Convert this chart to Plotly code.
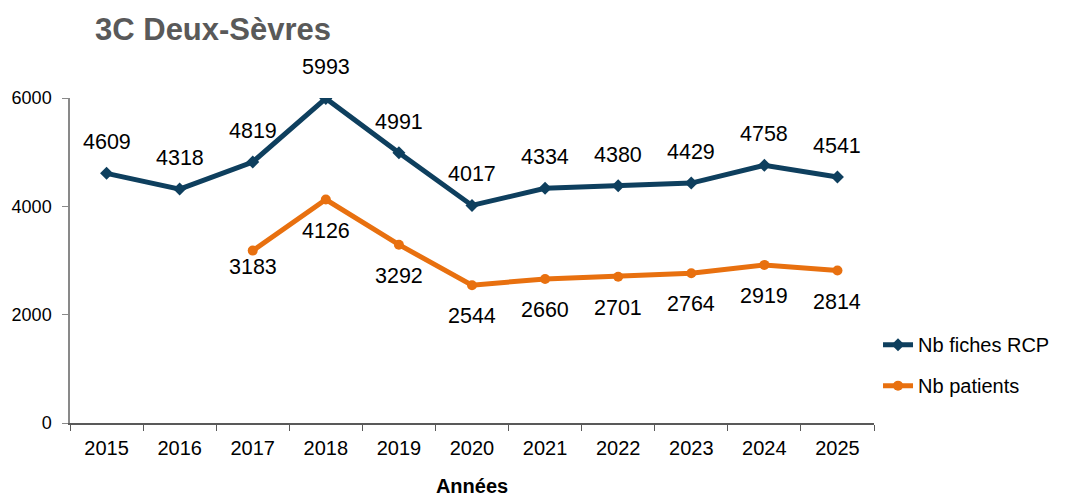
import plotly.graph_objects as go

years = ["2015", "2016", "2017", "2018", "2019", "2020", "2021", "2022", "2023", "2024", "2025"]
fiches_rcp = [4609, 4318, 4819, 5993, 4991, 4017, 4334, 4380, 4429, 4758, 4541]
patients_years = ["2017", "2018", "2019", "2020", "2021", "2022", "2023", "2024", "2025"]
patients = [3183, 4126, 3292, 2544, 2660, 2701, 2764, 2919, 2814]

BLUE = "#0E3F5E"
ORANGE = "#E8700F"
FONT = "Arial, Liberation Sans, sans-serif"

W, H = 1059, 489

fig = go.Figure()
fig.add_trace(go.Scatter(
    x=years, y=fiches_rcp, name="Nb fiches RCP", mode="lines+markers",
    line=dict(color=BLUE, width=5), marker=dict(symbol="diamond", size=10, color=BLUE),
    legendgroup="a",
))
fig.add_trace(go.Scatter(
    x=patients_years, y=patients, name="Nb patients", mode="lines+markers",
    line=dict(color=ORANGE, width=5), marker=dict(symbol="circle", size=10, color=ORANGE),
    legendgroup="b",
))

annotations = []
for x, y in zip(years, fiches_rcp):
    annotations.append(dict(x=years.index(x), y=y, text=str(y), showarrow=False, yshift=31,
                            font=dict(size=21.5, color="#000000", family=FONT)))
for i, (x, y) in enumerate(zip(patients_years, patients)):
    annotations.append(dict(x=years.index(x), y=y, text=str(y), showarrow=False,
                            yshift=-16 if i == 0 else -31,
                            font=dict(size=21.5, color="#000000", family=FONT)))

fig.update_layout(
    width=W, height=H,
    margin=dict(l=62, r=182, t=90, b=74),
    paper_bgcolor="white", plot_bgcolor="white",
    font=dict(family=FONT, size=20, color="#000000"),
    title=dict(text="<b>3C Deux-Sèvres</b>", x=(95 - 8) / W, xanchor="left", xref="container",
               y=1 - (29 - 8) / H, yref="container", yanchor="middle",
               font=dict(size=31, color="#595959", family=FONT)),
    showlegend=True,
    legend=dict(x=1.005, xanchor="left", y=0.178, yanchor="middle",
                font=dict(size=20, family=FONT, color="#000000"),
                traceorder="grouped", tracegroupgap=12, bgcolor="rgba(0,0,0,0)"),
    annotations=annotations,
)
fig.update_xaxes(
    type="category", range=[-0.5, 10.5], tickson="boundaries",
    showline=True, linecolor="#595959", linewidth=1.5,
    ticks="outside", ticklen=6, tickcolor="#595959",
    ticklabelstandoff=6, automargin=False,
    showgrid=False, zeroline=False,
    tickfont=dict(size=20, family=FONT),
    title=dict(text="<b>Années</b>", font=dict(size=20, family=FONT), standoff=28),
)
fig.update_yaxes(
    range=[0, 6000], dtick=2000, tick0=0,
    showline=True, linecolor="#898989", linewidth=1.5,
    ticks="outside", ticklen=6, tickcolor="#898989",
    ticklabelstandoff=7, automargin=False,
    showgrid=False, zeroline=False,
    tickfont=dict(size=18, family=FONT),
)

fig.write_html("out.html")
